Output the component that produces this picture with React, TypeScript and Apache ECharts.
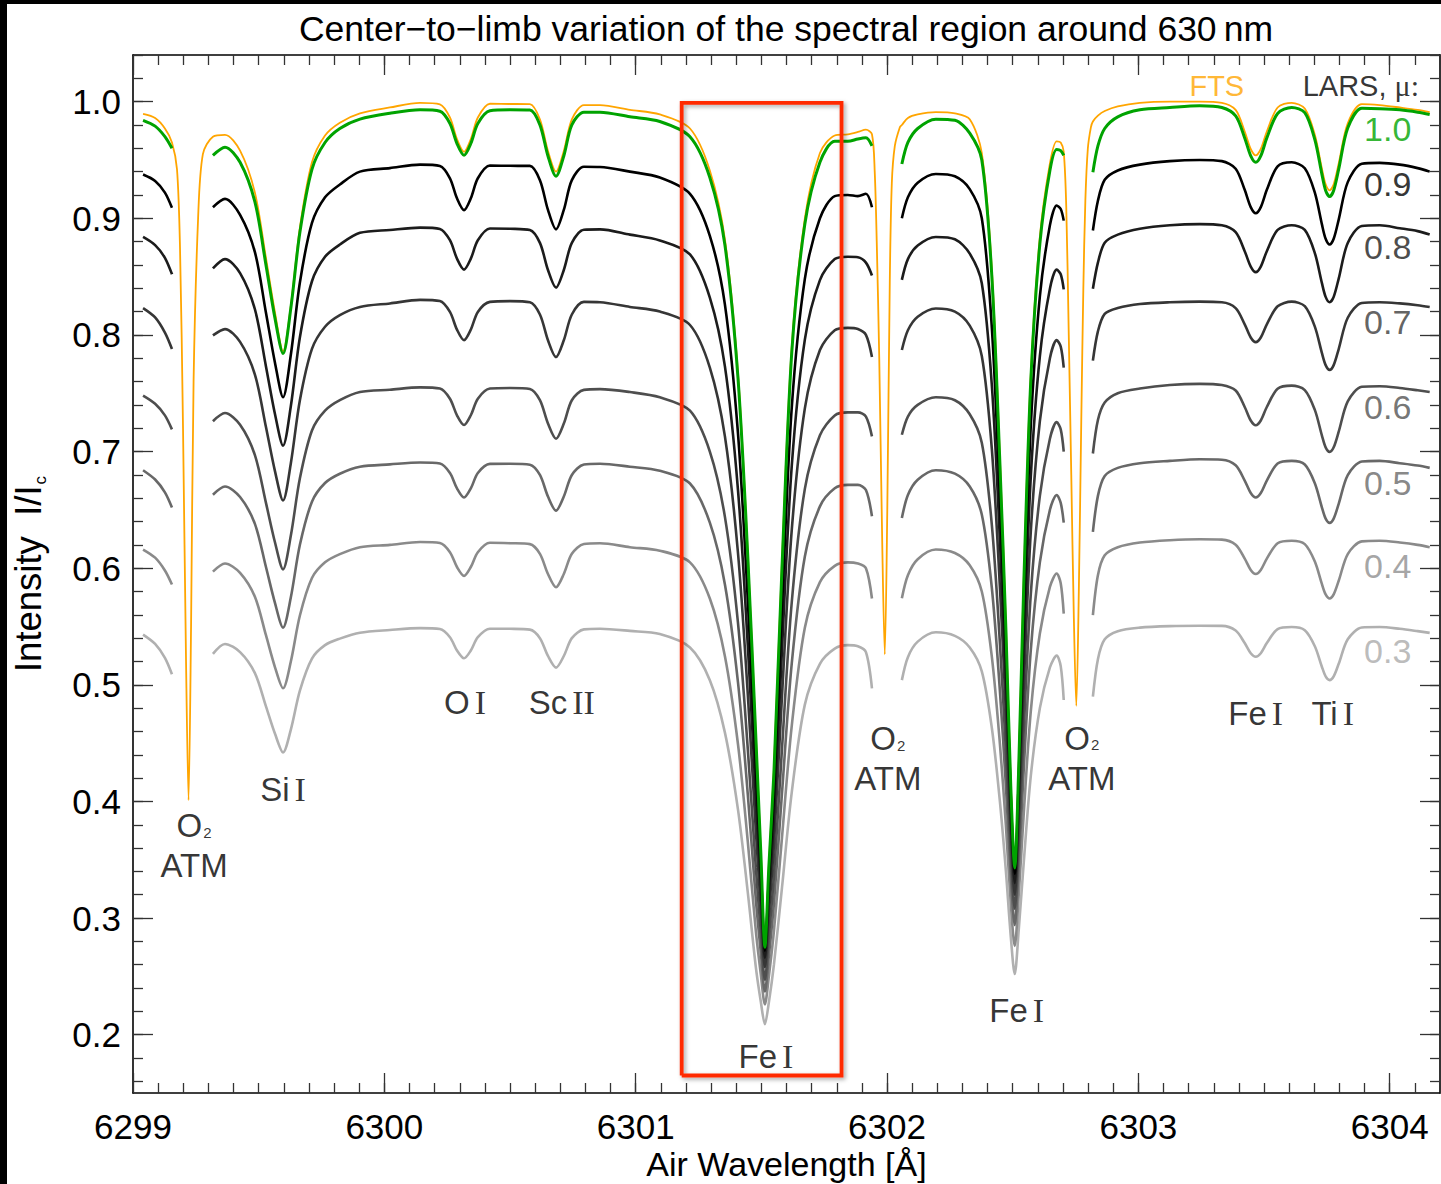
import React, { useEffect, useRef } from 'react';
import * as echarts from 'echarts';

const SANS = '"Liberation Sans", Arial, Helvetica, sans-serif';
const SERIF = '"Liberation Serif", "Times New Roman", serif';

const X_MIN = 6299;
const X_MAX = 6304.2;
const Y_MIN = 0.15;
const Y_MAX = 1.04;

const X_MAJOR = [6299, 6300, 6301, 6302, 6303, 6304];
const Y_MAJOR = [0.2, 0.3, 0.4, 0.5, 0.6, 0.7, 0.8, 0.9, 1.0];

// wavelength grids of the four LARS segments (gaps at the telluric O2 lines)
const X_SEG1 = [6299.040, 6299.088, 6299.127, 6299.155];
const X_SEG2 = [6299.318, 6299.366, 6299.426, 6299.485, 6299.529, 6299.565, 6299.597, 6299.628, 6299.664, 6299.712,
  6299.764, 6299.823, 6299.903, 6300.022, 6300.142, 6300.221, 6300.261, 6300.289, 6300.317, 6300.344,
  6300.372, 6300.420, 6300.500, 6300.579, 6300.619, 6300.651, 6300.683, 6300.714, 6300.746, 6300.794,
  6300.858, 6300.977, 6301.096, 6301.216, 6301.295, 6301.355, 6301.407, 6301.446, 6301.478, 6301.498,
  6301.514, 6301.530, 6301.550, 6301.582, 6301.621, 6301.673, 6301.733, 6301.792, 6301.844, 6301.884,
  6301.916, 6301.940];
const X_SEG3 = [6302.059, 6302.083, 6302.122, 6302.194, 6302.270, 6302.329, 6302.377, 6302.417, 6302.449, 6302.473,
  6302.492, 6302.508, 6302.524, 6302.544, 6302.572, 6302.608, 6302.648, 6302.675, 6302.691, 6302.703];
const X_SEG4 = [6302.819, 6302.839, 6302.866, 6302.918, 6303.006, 6303.125, 6303.244, 6303.332, 6303.387, 6303.423,
  6303.447, 6303.467, 6303.487, 6303.511, 6303.554, 6303.610, 6303.662, 6303.702, 6303.730, 6303.745,
  6303.761, 6303.777, 6303.797, 6303.833, 6303.889, 6303.960, 6304.040, 6304.111, 6304.159];

// LARS intensities per mu, one list per segment
const LARS_10 = [
  [0.984, 0.979, 0.970, 0.960],
  [0.954, 0.961, 0.948, 0.914, 0.860, 0.814, 0.784, 0.823, 0.888, 0.942, 0.965, 0.977, 0.985, 0.990, 0.993,
    0.9918, 0.9813, 0.9641, 0.954, 0.9641, 0.9813, 0.9922, 0.993, 0.9928, 0.9801, 0.9534, 0.936, 0.9534, 0.9801, 0.991,
    0.991, 0.987, 0.983, 0.970, 0.935, 0.877, 0.763, 0.610, 0.455, 0.355, 0.275, 0.345, 0.425, 0.600, 0.785, 0.895, 0.948, 0.966, 0.966, 0.968, 0.969, 0.962],
  [0.9465, 0.965, 0.977, 0.985, 0.984, 0.973, 0.950, 0.850, 0.690, 0.547, 0.415, 0.343, 0.430, 0.586, 0.761, 0.878, 0.941, 0.959, 0.958, 0.954],
  [0.9395, 0.962, 0.977, 0.987, 0.993, 0.995, 0.9965, 0.995, 0.9878, 0.9689, 0.9535, 0.948, 0.9535, 0.9689, 0.9899, 0.995, 0.9905, 0.9675, 0.9379, 0.9239, 0.9186, 0.9239, 0.9421, 0.9774, 0.9943, 0.994, 0.993, 0.991, 0.989],
];
const LARS_09 = [
  [0.9375, 0.932, 0.922, 0.909],
  [0.9095, 0.9166, 0.903, 0.871, 0.819, 0.776, 0.7465, 0.783, 0.845, 0.896, 0.918, 0.929, 0.940, 0.943, 0.946,
    0.9448, 0.9343, 0.9171, 0.907, 0.9171, 0.9343, 0.9452, 0.945, 0.9449, 0.9327, 0.9072, 0.8905, 0.9072, 0.9327, 0.9442,
    0.944, 0.940, 0.935, 0.921, 0.885, 0.826, 0.7155, 0.5725, 0.430, 0.341, 0.272, 0.334, 0.407, 0.566, 0.738, 0.848, 0.900, 0.919, 0.920, 0.919, 0.921, 0.9095],
  [0.900, 0.918, 0.9305, 0.938, 0.936, 0.925, 0.900, 0.806, 0.659, 0.527, 0.405, 0.338, 0.419, 0.560, 0.7225, 0.833, 0.894, 0.911, 0.908, 0.898],
  [0.8895, 0.915, 0.933, 0.941, 0.946, 0.949, 0.950, 0.949, 0.9425, 0.9244, 0.9096, 0.9043, 0.9096, 0.9244, 0.9446, 0.948, 0.9429, 0.922, 0.895, 0.8824, 0.8775, 0.8824, 0.8989, 0.931, 0.9468, 0.9475, 0.946, 0.943, 0.940],
];
const LARS_08 = [
  [0.884, 0.877, 0.866, 0.852],
  [0.857, 0.865, 0.853, 0.822, 0.773, 0.732, 0.705, 0.739, 0.798, 0.846, 0.867, 0.8775, 0.8875, 0.890, 0.892,
    0.8909, 0.8812, 0.8654, 0.856, 0.8654, 0.8812, 0.8913, 0.891, 0.890, 0.8789, 0.8557, 0.8406, 0.8557, 0.8789, 0.8902,
    0.8905, 0.886, 0.881, 0.869, 0.832, 0.773, 0.667, 0.534, 0.404, 0.326, 0.266, 0.320, 0.386, 0.530, 0.688, 0.796, 0.847, 0.865, 0.867, 0.8666, 0.862, 0.851],
  [0.8472, 0.865, 0.8766, 0.884, 0.882, 0.8697, 0.8443, 0.7566, 0.624, 0.503, 0.392, 0.330, 0.404, 0.531, 0.6787, 0.7817, 0.8395, 0.856, 0.852, 0.839],
  [0.8396, 0.862, 0.879, 0.886, 0.891, 0.894, 0.895, 0.894, 0.8881, 0.8718, 0.8586, 0.8538, 0.8586, 0.8718, 0.8900, 0.894, 0.8901, 0.8702, 0.8446, 0.8326, 0.828, 0.8326, 0.8483, 0.8788, 0.8934, 0.894, 0.8915, 0.889, 0.886],
];
const LARS_07 = [
  [0.823, 0.815, 0.802, 0.788],
  [0.7996, 0.805, 0.794, 0.766, 0.721, 0.683, 0.658, 0.690, 0.744, 0.788, 0.807, 0.817, 0.824, 0.827, 0.830,
    0.829, 0.8197, 0.8045, 0.7955, 0.8045, 0.8197, 0.8283, 0.829, 0.828, 0.8175, 0.7954, 0.781, 0.7954, 0.8175, 0.8283,
    0.828, 0.824, 0.820, 0.8085, 0.772, 0.713, 0.613, 0.492, 0.375, 0.308, 0.258, 0.304, 0.363, 0.490, 0.633, 0.737, 0.787, 0.804, 0.806, 0.805, 0.800, 0.781],
  [0.787, 0.804, 0.8156, 0.8227, 0.820, 0.808, 0.782, 0.702, 0.584, 0.476, 0.376, 0.320, 0.3866, 0.4988, 0.6315, 0.726, 0.780, 0.7955, 0.790, 0.772],
  [0.778, 0.803, 0.818, 0.823, 0.8265, 0.828, 0.8285, 0.828, 0.823, 0.8091, 0.7978, 0.7938, 0.7978, 0.8091, 0.8245, 0.8285, 0.8246, 0.8071, 0.7846, 0.7741, 0.770, 0.7741, 0.7879, 0.8147, 0.8274, 0.828, 0.827, 0.8255, 0.824],
];
const LARS_06 = [
  [0.748, 0.741, 0.731, 0.719],
  [0.726, 0.733, 0.723, 0.697, 0.656, 0.622, 0.599, 0.628, 0.677, 0.718, 0.735, 0.744, 0.751, 0.753, 0.755,
    0.754, 0.7453, 0.7311, 0.7227, 0.7311, 0.7453, 0.754, 0.7545, 0.7536, 0.744, 0.724, 0.711, 0.724, 0.744, 0.7529,
    0.7535, 0.751, 0.7465, 0.735, 0.700, 0.644, 0.553, 0.445, 0.343, 0.2875, 0.247, 0.2845, 0.336, 0.445, 0.571, 0.668, 0.714, 0.731, 0.7336, 0.7336, 0.730, 0.713],
  [0.7144, 0.730, 0.740, 0.7465, 0.744, 0.732, 0.7076, 0.637, 0.536, 0.443, 0.357, 0.308, 0.366, 0.462, 0.578, 0.662, 0.711, 0.7252, 0.719, 0.700],
  [0.6983, 0.727, 0.742, 0.750, 0.754, 0.757, 0.758, 0.757, 0.7523, 0.7382, 0.7266, 0.7225, 0.7266, 0.7382, 0.7539, 0.7565, 0.7527, 0.7357, 0.7139, 0.7036, 0.6997, 0.7036, 0.717, 0.743, 0.7555, 0.756, 0.7545, 0.7525, 0.751],
];
const LARS_05 = [
  [0.684, 0.676, 0.665, 0.652],
  [0.663, 0.670, 0.661, 0.638, 0.601, 0.570, 0.549, 0.575, 0.620, 0.657, 0.673, 0.681, 0.687, 0.689, 0.6906,
    0.6897, 0.6816, 0.6684, 0.6606, 0.6684, 0.6816, 0.6894, 0.6895, 0.6887, 0.6799, 0.6614, 0.6493, 0.6614, 0.6799, 0.6889,
    0.6895, 0.687, 0.6835, 0.6726, 0.639, 0.586, 0.502, 0.406, 0.316, 0.270, 0.237, 0.268, 0.3125, 0.407, 0.5185, 0.610, 0.653, 0.6685, 0.6714, 0.6714, 0.667, 0.6445],
  [0.643, 0.6627, 0.6758, 0.684, 0.681, 0.670, 0.646, 0.583, 0.495, 0.413, 0.338, 0.294, 0.3455, 0.428, 0.530, 0.605, 0.650, 0.6628, 0.656, 0.639],
  [0.6311, 0.662, 0.679, 0.686, 0.690, 0.692, 0.6934, 0.693, 0.6882, 0.6751, 0.6644, 0.6606, 0.6644, 0.6751, 0.6897, 0.692, 0.6889, 0.6728, 0.6522, 0.6425, 0.6388, 0.6425, 0.6552, 0.6798, 0.6915, 0.692, 0.690, 0.688, 0.686],
];
const LARS_04 = [
  [0.616, 0.609, 0.598, 0.586],
  [0.597, 0.604, 0.596, 0.5755, 0.5425, 0.515, 0.497, 0.520, 0.5594, 0.5916, 0.605, 0.612, 0.618, 0.620, 0.6224,
    0.6215, 0.6137, 0.601, 0.5934, 0.601, 0.6137, 0.6218, 0.6214, 0.6206, 0.6123, 0.595, 0.5836, 0.595, 0.6123, 0.6208,
    0.6214, 0.618, 0.615, 0.605, 0.574, 0.5245, 0.449, 0.3655, 0.289, 0.2515, 0.226, 0.2505, 0.289, 0.369, 0.465, 0.549, 0.588, 0.602, 0.605, 0.604, 0.600, 0.574],
  [0.5743, 0.594, 0.6077, 0.616, 0.613, 0.6025, 0.580, 0.524, 0.4496, 0.379, 0.314, 0.276, 0.3205, 0.390, 0.4775, 0.544, 0.584, 0.5954, 0.587, 0.561],
  [0.5597, 0.594, 0.611, 0.618, 0.622, 0.624, 0.6248, 0.6245, 0.6201, 0.6082, 0.5985, 0.595, 0.5985, 0.6082, 0.6214, 0.6235, 0.6206, 0.6057, 0.5865, 0.5775, 0.574, 0.5775, 0.5892, 0.6121, 0.623, 0.6235, 0.622, 0.620, 0.618],
];
const LARS_03 = [
  [0.543, 0.535, 0.523, 0.509],
  [0.5265, 0.535, 0.528, 0.510, 0.4815, 0.458, 0.442, 0.4616, 0.495, 0.5225, 0.534, 0.5396, 0.5447, 0.547, 0.5486,
    0.5478, 0.5408, 0.5294, 0.5227, 0.5294, 0.5408, 0.5481, 0.548, 0.5473, 0.540, 0.5247, 0.5147, 0.5247, 0.540, 0.5475,
    0.548, 0.5462, 0.5435, 0.532, 0.504, 0.459, 0.393, 0.322, 0.258, 0.228, 0.209, 0.228, 0.260, 0.326, 0.408, 0.483, 0.518, 0.531, 0.534, 0.533, 0.528, 0.497],
  [0.504, 0.5237, 0.537, 0.545, 0.542, 0.532, 0.5115, 0.463, 0.400, 0.340, 0.285, 0.252, 0.290, 0.348, 0.422, 0.480, 0.515, 0.525, 0.516, 0.487],
  [0.4898, 0.522, 0.539, 0.546, 0.549, 0.5503, 0.5506, 0.5505, 0.5465, 0.5358, 0.5271, 0.524, 0.5271, 0.5358, 0.5477, 0.5495, 0.5468, 0.5331, 0.5155, 0.5072, 0.504, 0.5072, 0.518, 0.539, 0.5491, 0.5495, 0.548, 0.546, 0.5445],
];

// FTS atlas, continuous (includes the telluric O2 lines)
const FTS_X_A = [6299.040, 6299.088, 6299.127, 6299.155, 6299.175, 6299.187, 6299.199, 6299.211, 6299.221, 6299.231, 6299.241, 6299.259, 6299.278];
const FTS_Y_A = [0.9895, 0.986, 0.977, 0.965, 0.942, 0.875, 0.72, 0.52, 0.401, 0.55, 0.76, 0.90, 0.955];
const FTS_Y_B = [0.970, 0.9715, 0.958, 0.922, 0.866, 0.819, 0.786, 0.825, 0.892, 0.948, 0.971, 0.982, 0.990, 0.995, 0.999,
  0.9977, 0.9864, 0.9679, 0.957, 0.9679, 0.9864, 0.9982, 0.998, 0.9978, 0.9848, 0.9577, 0.940, 0.9577, 0.9848, 0.997,
  0.997, 0.993, 0.989, 0.977, 0.941, 0.882, 0.767, 0.612, 0.456, 0.355, 0.272, 0.346, 0.428, 0.605, 0.790, 0.900, 0.956, 0.971, 0.972, 0.974, 0.976, 0.972];
const FTS_X_C = [6301.951, 6301.959, 6301.969, 6301.981, 6301.991, 6302.001, 6302.011, 6302.019, 6302.031, 6302.051];
const FTS_Y_C = [0.94, 0.88, 0.78, 0.62, 0.526, 0.65, 0.847, 0.93, 0.962, 0.978];
const FTS_Y_D = [0.980, 0.986, 0.989, 0.991, 0.990, 0.985, 0.956, 0.856, 0.694, 0.550, 0.417, 0.343, 0.432, 0.590, 0.766, 0.884, 0.947, 0.966, 0.965, 0.957];
const FTS_X_E = [6302.713, 6302.723, 6302.733, 6302.743, 6302.753, 6302.763, 6302.773, 6302.781, 6302.789, 6302.799, 6302.811];
const FTS_Y_E = [0.91, 0.80, 0.68, 0.56, 0.482, 0.58, 0.73, 0.84, 0.915, 0.96, 0.978];
const FTS_Y_F = [0.983, 0.988, 0.992, 0.996, 0.999, 1.000, 1.000, 0.999, 0.9929, 0.9744, 0.9594, 0.954, 0.9594, 0.9744, 0.995, 0.999, 0.9941, 0.9717, 0.9428, 0.9292, 0.924, 0.9292, 0.947, 0.9814, 0.9978, 0.997, 0.995, 0.993, 0.991];

const MU_NAMES = ['1.0', '0.9', '0.8', '0.7', '0.6', '0.5', '0.4', '0.3'];
const MU_COLORS = ['#00a300', '#000000', '#1c1c1c', '#363636', '#4e4e4e', '#686868', '#8a8a8a', '#b0b0b0'];
const MU_LABEL_COLORS = ['#00a300', '#000000', '#1c1c1c', '#3a3a3a', '#525252', '#686868', '#8e8e8e', '#aaaaaa'];
const MU_LABEL_X = 6303.992;
const MU_LABEL_Y = [0.9769, 0.9298, 0.8758, 0.8107, 0.7379, 0.6728, 0.6017, 0.5289];

// red box around Fe I 6301.5
const BOX_X = [6301.183, 6301.819];
const BOX_Y = [0.165, 0.999];

const LINE_LABEL_TEXT = [
  '{s|O}{sub|2}\n{s|ATM}', '{s|Si}{r|I}', '{s|O}{r|I}', '{s|Sc}{r|II}', '{s|Fe}{r|I}',
  '{s|O}{sub|2}\n{s|ATM}', '{s|Fe}{r|I}', '{s|O}{sub|2}\n{s|ATM}', '{s|Fe}{r|I}', '{s|Ti}{r|I}',
];
const LINE_LABEL_X = [6299.243, 6299.597, 6300.321, 6300.706, 6301.518, 6302.003, 6302.516, 6302.775, 6303.467, 6303.773];
const LINE_LABEL_Y = [0.362, 0.410, 0.4844, 0.4844, 0.181, 0.4368, 0.2206, 0.437, 0.475, 0.475];

const HEAD_TEXT = ['{h|FTS}', '{h|LARS, }{m|μ:}'];
const HEAD_COLORS = ['#ffa500', '#000000'];
const HEAD_X = [6303.312, 6303.885];
const HEAD_Y = [1.0137, 1.0137];

function zip(xs: number[], ys: number[]) {
  const n = Math.min(xs.length, ys.length);
  const out: (number | null)[][] = [];
  for (let i = 0; i < n; i++) out.push([xs[i], ys[i]]);
  return out;
}

function larsData(segs: number[][]) {
  const xs = [X_SEG1, X_SEG2, X_SEG3, X_SEG4];
  const out: (number | null)[][] = [];
  segs.forEach((ys, k) => {
    if (k > 0) {
      const prev = xs[k - 1];
      out.push([(prev[prev.length - 1] + xs[k][0]) / 2, null]);
    }
    out.push(...zip(xs[k], ys));
  });
  return out;
}

function ftsData() {
  return [
    ...zip(FTS_X_A, FTS_Y_A),
    ...zip(X_SEG2, FTS_Y_B),
    ...zip(FTS_X_C, FTS_Y_C),
    ...zip(X_SEG3, FTS_Y_D),
    ...zip(FTS_X_E, FTS_Y_E),
    ...zip(X_SEG4, FTS_Y_F),
  ];
}

function range(a: number, b: number, step: number, digits: number) {
  const out: number[] = [];
  for (let v = a; v <= b + 1e-9; v += step) out.push(+v.toFixed(digits));
  return out;
}

const X_MINOR = range(6299.1, X_MAX, 0.1, 1);
const Y_MINOR = range(0.16, Y_MAX, 0.02, 2);

const TICK_COLOR = '#333';

function xAxis(position: string, values: number[], len: number, withLabels: boolean, line: boolean) {
  return {
    type: 'value', gridIndex: 0, min: X_MIN, max: X_MAX, position,
    axisLine: { show: line, onZero: false, lineStyle: { color: '#000', width: 1.6 } },
    axisTick: { show: true, inside: true, length: len, customValues: values, lineStyle: { color: TICK_COLOR, width: 1.3 } },
    axisLabel: {
      show: withLabels, customValues: values, fontSize: 35, lineHeight: 36, fontFamily: SANS, color: '#000', margin: 15,
      formatter: (v: number) => String(Math.round(v)),
    },
    splitLine: { show: false },
    ...(withLabels ? {
      name: 'Air Wavelength [Å]', nameLocation: 'middle', nameGap: 54, nameMoveOverlap: false,
      nameTextStyle: { fontSize: 34, lineHeight: 34, fontFamily: SANS, color: '#000' },
    } : {}),
  };
}

function yAxis(position: string, values: number[], len: number, withLabels: boolean, line: boolean) {
  return {
    type: 'value', gridIndex: 0, min: Y_MIN, max: Y_MAX, position,
    axisLine: { show: line, onZero: false, lineStyle: { color: '#000', width: 1.6 } },
    axisTick: { show: true, inside: true, length: len, customValues: values, lineStyle: { color: TICK_COLOR, width: 1.3 } },
    axisLabel: {
      show: withLabels, customValues: values, fontSize: 35, fontFamily: SANS, color: '#000', margin: 12,
      formatter: (v: number) => v.toFixed(1),
    },
    splitLine: { show: false },
    ...(withLabels ? {
      name: '{a|Intensity\u00a0\u00a0I/I}{b|c}', nameLocation: 'middle', nameGap: 84, nameRotate: 90,
      nameTextStyle: {
        color: '#000',
        rich: {
          a: { fontSize: 36.5, fontFamily: SANS, color: '#000', lineHeight: 42 },
          b: { fontSize: 17, fontFamily: SANS, color: '#000', verticalAlign: 'bottom', padding: [0, 0, 0, 1] },
        },
      },
    } : {}),
  };
}

const LABEL_RICH = {
  s: { fontFamily: SANS, fontSize: 33, lineHeight: 40 },
  r: { fontFamily: SERIF, fontSize: 34, lineHeight: 40, padding: [0, 0, 0, 5] },
  sub: { fontFamily: SANS, fontSize: 15, lineHeight: 15, verticalAlign: 'bottom', padding: [0, 0, 6, 1] },
  h: { fontFamily: SANS, fontSize: 29, lineHeight: 34 },
  m: { fontFamily: SERIF, fontSize: 30, lineHeight: 34 },
  n: { fontFamily: SANS, fontSize: 34, lineHeight: 38 },
};

function buildOption() {
  const lars = [LARS_10, LARS_09, LARS_08, LARS_07, LARS_06, LARS_05, LARS_04, LARS_03];
  const larsSeries = lars.map((segs, i) => ({
    type: 'line', name: 'LARS μ=' + MU_NAMES[i], xAxisIndex: 0, yAxisIndex: 0,
    data: larsData(segs), showSymbol: false, symbol: 'none', smooth: 0.3, connectNulls: false,
    lineStyle: { color: MU_COLORS[i], width: i === 0 ? 3 : 2.6 },
    z: i === 0 ? 5 : 4 - i * 0.1, silent: true,
  })).reverse();

  const box = [
    [BOX_X[0], BOX_Y[0]], [BOX_X[1], BOX_Y[0]], [BOX_X[1], BOX_Y[1]], [BOX_X[0], BOX_Y[1]], [BOX_X[0], BOX_Y[0]],
  ];

  const labelItems = LINE_LABEL_TEXT.map((t, i) => ({
    value: [LINE_LABEL_X[i], LINE_LABEL_Y[i]],
    label: { formatter: t, color: '#000' },
  }));
  const muItems = MU_NAMES.map((t, i) => ({
    value: [MU_LABEL_X, MU_LABEL_Y[i]],
    label: { formatter: '{n|' + t + '}', color: MU_LABEL_COLORS[i] },
  }));
  const headItems = HEAD_TEXT.map((t, i) => ({
    value: [HEAD_X[i], HEAD_Y[i]],
    label: { formatter: t, color: HEAD_COLORS[i] },
  }));

  return {
    animation: false,
    backgroundColor: '#ffffff',
    grid: { left: 133, right: 1, top: 55, bottom: 91, containLabel: false, outerBoundsMode: 'none' },
    xAxis: [
      xAxis('bottom', X_MAJOR, 20, true, true),
      xAxis('top', X_MAJOR, 20, false, true),
      xAxis('top', X_MINOR, 10, false, false),
      xAxis('bottom', X_MINOR, 10, false, false),
    ],
    yAxis: [
      yAxis('left', Y_MAJOR, 20, true, true),
      yAxis('right', Y_MAJOR, 20, false, true),
      yAxis('right', Y_MINOR, 10, false, false),
      yAxis('left', Y_MINOR, 10, false, false),
    ],
    series: [
      {
        type: 'line', name: 'FTS', data: ftsData(), showSymbol: false, symbol: 'none', smooth: 0.3,
        lineStyle: { color: '#ffa500', width: 1.8 }, z: 2, silent: true,
      },
      ...larsSeries,
      {
        type: 'line', name: 'box', data: box, showSymbol: false, symbol: 'none', smooth: false, z: 10, silent: true,
        lineStyle: {
          color: '#ff2a00', width: 3.8, join: 'miter',
          shadowColor: 'rgba(0,0,0,0.35)', shadowBlur: 4, shadowOffsetX: 2, shadowOffsetY: 2,
        },
      },
      {
        type: 'scatter', name: 'labels', symbolSize: 0, z: 20, silent: true,
        data: [...labelItems, ...muItems, ...headItems],
        label: { show: true, position: 'inside', rich: LABEL_RICH, align: 'center', verticalAlign: 'middle' },
      },
    ],
    graphic: [
      {
        type: 'text', x: 786, y: 29, z: 100,
        style: {
          text: 'Center\u2212to\u2212limb variation of the spectral region around 630\u2009nm',
          fontSize: 35.5, fontFamily: SANS, fill: '#000', align: 'center', verticalAlign: 'middle',
        },
      },
      { type: 'rect', shape: { x: 0, y: 0, width: 7, height: 1184 }, style: { fill: '#000' }, z: 100 },
      { type: 'rect', shape: { x: 0, y: 0, width: 1441, height: 4 }, style: { fill: '#000' }, z: 100 },
    ],
  };
}

export default function App() {
  const ref = useRef<HTMLDivElement>(null);
  useEffect(() => {
    if (!ref.current) return;
    const chart = echarts.init(ref.current, null, { renderer: 'svg' });
    chart.setOption(buildOption() as any);
    return () => chart.dispose();
  }, []);
  return (
    <div
      ref={ref}
      style={{ position: 'absolute', left: 0, top: 0, width: 1441, height: 1184, background: '#fff' }}
    />
  );
}
